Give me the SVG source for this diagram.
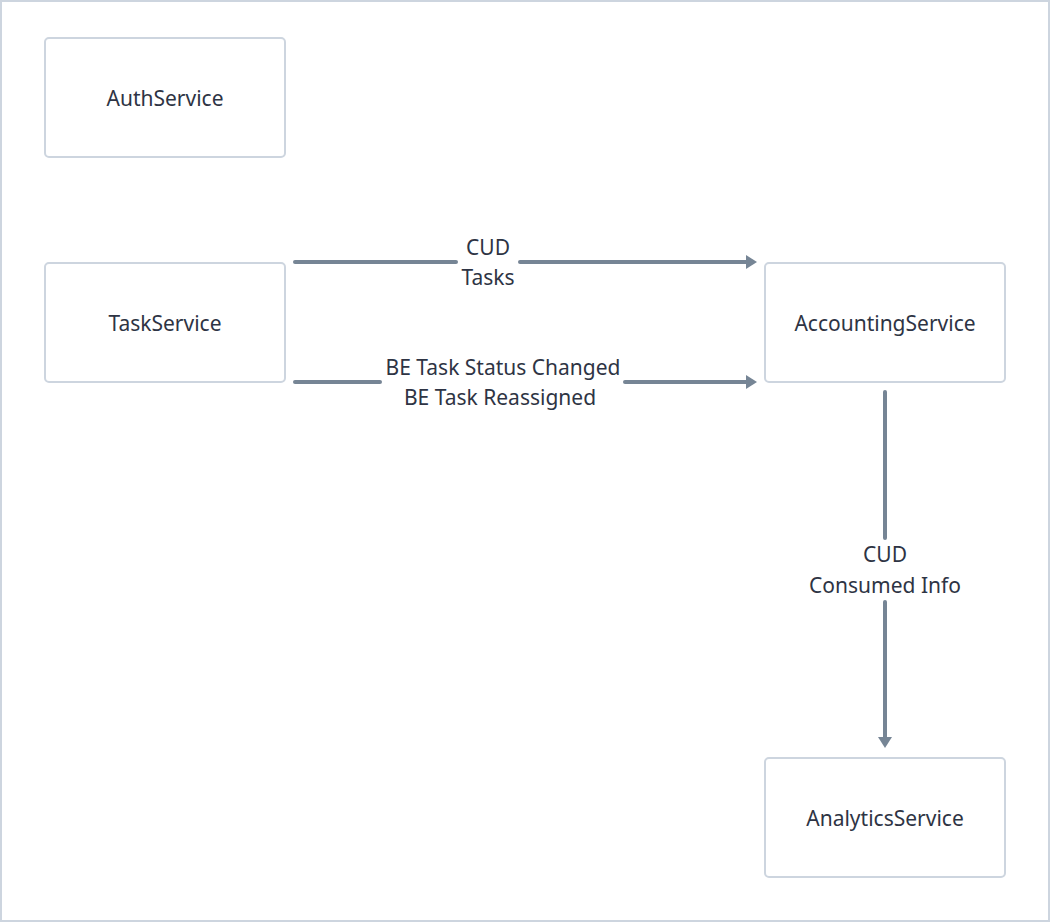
<svg xmlns="http://www.w3.org/2000/svg" width="1050" height="922" viewBox="0 0 1050 922">
<style>
.node rect{fill:#ffffff;stroke:#cdd5df;stroke-width:2}
text{font-family:"Noto Sans","Liberation Sans",sans-serif;font-size:21px;fill:#2e3444;text-anchor:middle}
.edge{stroke:#768595;stroke-width:4;fill:none;stroke-linecap:round}
.bg{fill:#ffffff;stroke:#cdd5df;stroke-width:2}
</style>
<defs>
<marker id="arr" markerWidth="12" markerHeight="14" refX="1" refY="7" orient="auto" markerUnits="userSpaceOnUse" overflow="visible">
<path d="M0,0 L11,7 L0,14 Z" fill="#768595"/>
</marker>
</defs>
<rect class="bg" x="1" y="1" width="1048" height="920"/>
<g id="AuthService" class="node"><rect x="45" y="38" width="240" height="119" rx="4"/><text x="165" y="106">AuthService</text></g>
<g id="TaskService" class="node"><rect x="45" y="263" width="240" height="119" rx="4"/><text x="165" y="331">TaskService</text></g>
<g id="AccountingService" class="node"><rect x="765" y="263" width="240" height="119" rx="4"/><text x="885" y="331">AccountingService</text></g>
<g id="AnalyticsService" class="node"><rect x="765" y="758" width="240" height="119" rx="4"/><text x="885" y="826">AnalyticsService</text></g>
<g id="connectors">
<path class="edge" d="M295,262 L456,262"/>
<path class="edge" d="M520,262 L747,262" marker-end="url(#arr)"/>
<text x="488" y="255">CUD</text><text x="488" y="285">Tasks</text>
<path class="edge" d="M295,382 L380,382"/>
<path class="edge" d="M625,382 L747,382" marker-end="url(#arr)"/>
<text x="503" y="375">BE Task Status Changed</text><text x="500" y="405">BE Task Reassigned</text>
<path class="edge" d="M885,392 L885,538"/>
<path class="edge" d="M885,602 L885,738" marker-end="url(#arr)"/>
<text x="885" y="562">CUD</text><text x="885" y="593">Consumed Info</text>
</g>
</svg>
